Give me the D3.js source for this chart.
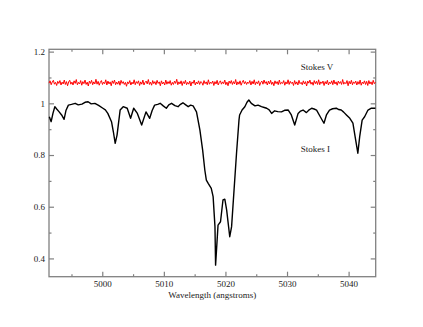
<!DOCTYPE html>
<html>
<head>
<meta charset="utf-8">
<script src="https://cdn.jsdelivr.net/npm/d3@7"></script>
<style>
  body { margin: 0; background: #fff; }
  svg text { font-family: "Liberation Serif", "DejaVu Serif", serif; font-size: 9px; fill: #222; }
</style>
</head>
<body>
<div id="chart"></div>
<script>
const width = 423, height = 327;
const margin = {left: 49, top: 49.3, right: 423 - 375.7, bottom: 327 - 276.7};

const xTicks = [5000, 5010, 5020, 5030, 5040];
const xMinor = [4995, 5005, 5015, 5025, 5035];
const yTicks = [0.4, 0.6, 0.8, 1, 1.2];
const yMinor = [0.5, 0.7, 0.9, 1.1];

// Stokes I profile (wavelength, normalised intensity)
const stokesIWave = [
  4991.4, 4991.7, 4992.0, 4992.3, 4992.6, 4993.0, 4993.4, 4993.8, 4994.1, 4994.5,
  4995.0, 4995.6, 4996.1, 4996.7, 4997.2, 4997.7, 4998.2, 4998.8, 4999.4, 5000.1,
  5000.5, 5000.9, 5001.5, 5001.8, 5002.1, 5002.4, 5002.9, 5003.4, 5004.05, 5004.6,
  5005.1, 5005.7, 5006.4, 5007.1, 5007.7, 5008.1, 5008.5, 5009.0, 5009.4, 5009.9,
  5010.4, 5010.8, 5011.25, 5011.8, 5012.3, 5012.7, 5013.1, 5013.5, 5013.95, 5014.35,
  5014.75, 5015.3, 5015.85, 5016.3, 5016.65, 5016.9, 5017.2, 5017.7, 5018.0, 5018.3,
  5018.4, 5018.8, 5019.2, 5019.6, 5019.9, 5020.2, 5020.7, 5021.0, 5021.8, 5022.2,
  5022.3, 5022.7, 5023.15, 5023.5, 5023.8, 5024.2, 5024.8, 5025.3, 5025.85, 5026.3,
  5026.7, 5027.1, 5027.5, 5028.0, 5028.5, 5029.1, 5029.6, 5030.2, 5030.7, 5031.25,
  5031.8, 5032.2, 5032.6, 5033.15, 5033.6, 5034.0, 5034.4, 5034.8, 5035.4, 5036.0,
  5036.4, 5036.9, 5037.4, 5038.0, 5038.4, 5038.8, 5039.2, 5039.65, 5040.2, 5040.7,
  5041.15, 5041.5, 5041.8, 5042.2, 5042.6, 5043.15, 5043.7, 5044.35
];
const stokesIFlux = [
  0.948, 0.929, 0.962, 0.987, 0.978, 0.967, 0.955, 0.938, 0.972, 0.993,
  0.996, 1.000, 0.994, 0.997, 1.004, 1.006, 0.998, 1.000, 0.992, 0.981,
  0.975, 0.961, 0.929, 0.890, 0.845, 0.877, 0.974, 0.987, 0.981, 0.942,
  0.981, 0.961, 0.916, 0.967, 0.942, 0.972, 0.993, 0.996, 1.000, 0.990,
  0.981, 0.994, 1.000, 0.991, 0.987, 0.996, 1.002, 0.995, 0.987, 0.993,
  0.990, 0.967, 0.897, 0.819, 0.742, 0.703, 0.690, 0.671, 0.639, 0.523,
  0.374, 0.529, 0.542, 0.626, 0.629, 0.587, 0.484, 0.523, 0.807, 0.935,
  0.955, 0.974, 0.987, 1.004, 1.013, 1.000, 0.990, 0.993, 0.987, 0.984,
  0.981, 0.975, 0.961, 0.971, 0.968, 0.967, 0.973, 0.974, 0.955, 0.916,
  0.961, 0.970, 0.974, 0.964, 0.975, 0.981, 0.978, 0.974, 0.948, 0.923,
  0.955, 0.974, 0.979, 0.981, 0.976, 0.974, 0.966, 0.955, 0.942, 0.923,
  0.858, 0.807, 0.871, 0.935, 0.948, 0.974, 0.981, 0.981
];

// Stokes V (offset), sampled evenly across the range
const stokesVStart = 4991.35, stokesVEnd = 5044.35;
const stokesVFlux = [
  1.078,1.087,1.072,1.083,1.089,1.074,1.081,1.069,1.085,1.077,1.088,1.071,1.082,1.075,1.090,1.073,1.084,1.068,1.083,1.089,
  1.074,1.082,1.071,1.087,1.077,1.092,1.072,1.081,1.075,1.088,1.070,1.084,1.076,1.090,1.073,1.082,1.067,1.086,1.077,1.089,
  1.072,1.083,1.075,1.093,1.074,1.085,1.070,1.081,1.088,1.073,1.082,1.076,1.091,1.071,1.086,1.075,1.083,1.068,1.087,1.077,
  1.090,1.072,1.082,1.074,1.086,1.070,1.089,1.077,1.084,1.073,1.081,1.066,1.083,1.076,1.088,1.071,1.082,1.075,1.091,1.072,
  1.084,1.077,1.087,1.069,1.083,1.074,1.090,1.071,1.081,1.086,1.075,1.092,1.073,1.082,1.070,1.088,1.076,1.084,1.072,1.089,
  1.077,1.083,1.068,1.087,1.075,1.082,1.071,1.090,1.074,1.084,1.076,1.088,1.070,1.081,1.073,1.086,1.077,1.093,1.072,1.083,
  1.075,1.087,1.069,1.084,1.076,1.089,1.072,1.081,1.074,1.086,1.067,1.083,1.077,1.090,1.071,1.082,1.075,1.087,1.073,1.084,
  1.081,1.070,1.088,1.076,1.083,1.072,1.091,1.074,1.082,1.077,1.086,1.069,1.084,1.075,1.089,1.071,1.081,1.087,1.074,1.083,
  1.076,1.090,1.072,1.082,1.068,1.086,1.077,1.088,1.073,1.084,1.075,1.092,1.071,1.083,1.074,1.087,1.070,1.081,1.089,1.076,
  1.084,1.073,1.082,1.077,1.088,1.071,1.085,1.075,1.091,1.072,1.083,1.076,1.087,1.069,1.081,1.086,1.074,1.090,1.077,1.084,
  1.071,1.086,1.075,1.089,1.073,1.082,1.068,1.087,1.076,1.084,1.072,1.090,1.074,1.081,1.077,1.088,1.070,1.083,1.075,1.091,
  1.073,1.085,1.077,1.082,1.069,1.088,1.074,1.083,1.071,1.089,1.076,1.081,1.072,1.087,1.075,1.084,1.067,1.086,1.078,1.090,
  1.074,1.082,1.070,1.088,1.076,1.085,1.073,1.091,1.072,1.083,1.077,1.086,1.069,1.084,1.075,1.089,1.071,1.082,1.076,1.087,
  1.072,1.090,1.075,1.083,1.070,1.086,1.077,1.084,1.073,1.092,1.074,1.081,1.076,1.088,1.068,1.085,1.075,1.089,1.072,1.083,
  1.077,1.086,1.071,1.084,1.074,1.090,1.070,1.082,1.076,1.087,1.073,1.085,1.069,1.088,1.075,1.083,1.072,1.089,1.076,1.082
];

const svg = d3.select("#chart").append("svg")
  .attr("width", width).attr("height", height);

const x = d3.scaleLinear().domain([4991.35, 5044.4]).range([margin.left, width - margin.right]);
const y = d3.scaleLinear().domain([0.3293, 1.209]).range([height - margin.bottom, margin.top]);

const axisColor = "#808080";

// ticks point inward on all four sides
function styleAxis(g) {
  g.select(".domain").remove();
  g.selectAll("line").attr("stroke", axisColor).attr("stroke-width", 1.2);
  g.selectAll("text").attr("fill", "#222");
}

svg.append("g").attr("transform", `translate(0,${height - margin.bottom})`)
  .call(d3.axisBottom(x).tickValues(xTicks).tickSize(-5).tickPadding(3.5).tickFormat(d3.format("d")))
  .call(styleAxis)
  .call(g => g.selectAll("text").attr("font-family", null).attr("font-size", null));
svg.append("g").attr("transform", `translate(0,${height - margin.bottom})`)
  .call(d3.axisBottom(x).tickValues(xMinor).tickSize(-2.5).tickFormat(""))
  .call(styleAxis);
svg.append("g").attr("transform", `translate(0,${margin.top})`)
  .call(d3.axisTop(x).tickValues(xTicks).tickSize(-5).tickFormat(""))
  .call(styleAxis);
svg.append("g").attr("transform", `translate(0,${margin.top})`)
  .call(d3.axisTop(x).tickValues(xMinor).tickSize(-2.5).tickFormat(""))
  .call(styleAxis);

svg.append("g").attr("transform", `translate(${margin.left},0)`)
  .call(d3.axisLeft(y).tickValues(yTicks).tickSize(-5).tickPadding(4).tickFormat(d3.format("~g")))
  .call(styleAxis)
  .call(g => g.selectAll("text").attr("font-family", null).attr("font-size", null));
svg.append("g").attr("transform", `translate(${margin.left},0)`)
  .call(d3.axisLeft(y).tickValues(yMinor).tickSize(-2.5).tickFormat(""))
  .call(styleAxis);
svg.append("g").attr("transform", `translate(${width - margin.right},0)`)
  .call(d3.axisRight(y).tickValues(yTicks).tickSize(-5).tickFormat(""))
  .call(styleAxis);
svg.append("g").attr("transform", `translate(${width - margin.right},0)`)
  .call(d3.axisRight(y).tickValues(yMinor).tickSize(-2.5).tickFormat(""))
  .call(styleAxis);

// frame
svg.append("rect")
  .attr("x", margin.left).attr("y", margin.top)
  .attr("width", width - margin.left - margin.right)
  .attr("height", height - margin.top - margin.bottom)
  .attr("fill", "none").attr("stroke", axisColor).attr("stroke-width", 1.3);

const line = d3.line().x(d => x(d[0])).y(d => y(d[1]));

const vStep = (stokesVEnd - stokesVStart) / (stokesVFlux.length - 1);
const vData = stokesVFlux.map((v, i) => [stokesVStart + i * vStep, v]);
const iData = stokesIWave.map((w, i) => [w, stokesIFlux[i]]);

svg.append("path").datum(vData)
  .attr("d", line).attr("fill", "none")
  .attr("stroke", "#ff0000").attr("stroke-width", 1);

svg.append("path").datum(iData)
  .attr("d", line).attr("fill", "none")
  .attr("stroke", "#000").attr("stroke-width", 1.4)
  .attr("stroke-linejoin", "round");

svg.append("text").attr("x", 300.7).attr("y", 69.5).text("Stokes V");
svg.append("text").attr("x", 300.7).attr("y", 152).text("Stokes I");
svg.append("text").attr("x", (margin.left + width - margin.right) / 2).attr("y", 297.5)
  .attr("text-anchor", "middle").text("Wavelength (angstroms)");
</script>
</body>
</html>
